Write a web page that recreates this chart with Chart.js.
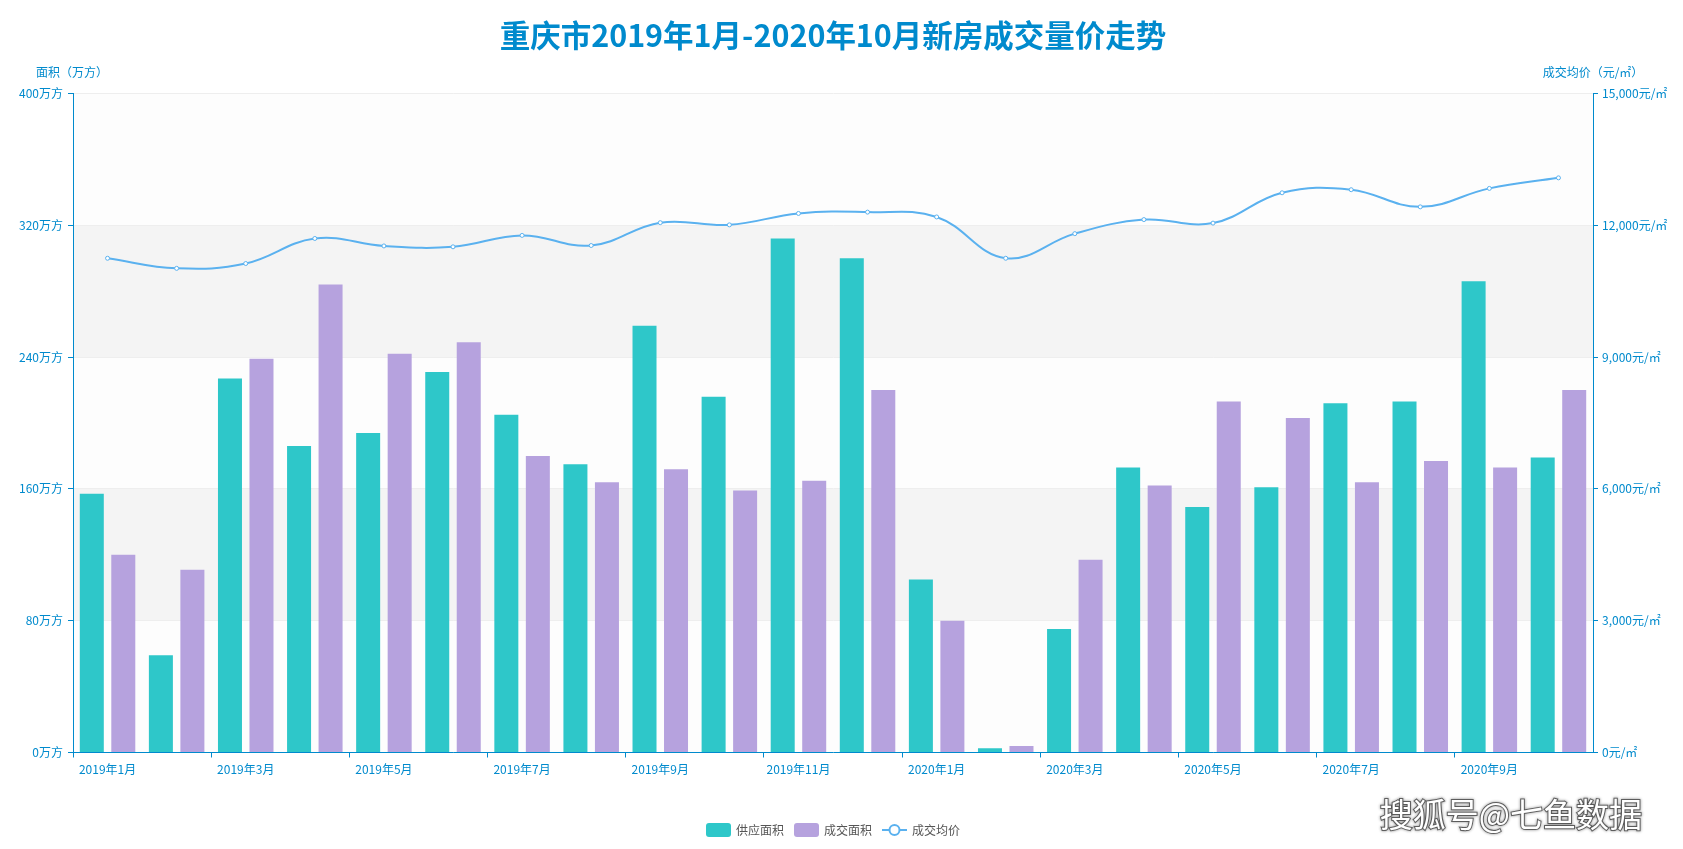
<!DOCTYPE html>
<html>
<head>
<meta charset="utf-8">
<script src="https://cdn.jsdelivr.net/npm/chart.js@4.4.1/dist/chart.umd.min.js"></script>
<style>
  html, body { margin: 0; background: #fff; }
  #wrap { width: 1683px; height: 849px; position: relative; }
</style>
</head>
<body>
<div id="wrap"><canvas id="chart" width="1683" height="849"></canvas></div>
<script>
const months = [
  "2019年1月", "2019年2月", "2019年3月", "2019年4月", "2019年5月", "2019年6月",
  "2019年7月", "2019年8月", "2019年9月", "2019年10月", "2019年11月", "2019年12月",
  "2020年1月", "2020年2月", "2020年3月", "2020年4月", "2020年5月", "2020年6月",
  "2020年7月", "2020年8月", "2020年9月", "2020年10月",
];
// 万方
const supplyArea = [157, 59, 227, 186, 194, 231, 205, 175, 259, 216, 312, 300,
  105, 2.6, 75, 173, 149, 161, 212, 213, 286, 179];
const dealArea = [120, 111, 239, 284, 242, 249, 180, 164, 172, 159, 165, 220,
  80, 3.9, 117, 162, 213, 203, 164, 177, 173, 220];
// 元/㎡
const avgPrice = [11250, 11020, 11130, 11700, 11530, 11510, 11770, 11540, 12060, 12010, 12270, 12300,
  12190, 11250, 11810, 12130, 12050, 12740, 12810, 12420, 12840, 13080];

const AREA_MAX = 400, AREA_STEP = 80;
const PRICE_MAX = 15000, PRICE_STEP = 3000;

const BLUE = "#008acd";
const FONT = "'Noto Sans CJK SC', 'Noto Sans', sans-serif";
const COLORS = { supply: "#2ec7c9", deal: "#b6a2de", price: "#5ab1ef" };

const bandsPlugin = {
  id: "bands",
  beforeDraw(chart) {
    const { ctx, chartArea: a } = chart;
    const y = chart.scales.y;
    ctx.save();
    for (let v = 0, i = 0; v < AREA_MAX; v += AREA_STEP, i++) {
      const top = y.getPixelForValue(v + AREA_STEP);
      const bottom = y.getPixelForValue(v);
      ctx.fillStyle = i % 2 === 0 ? "rgba(250,250,250,0.3)" : "rgba(200,200,200,0.2)";
      ctx.fillRect(a.left, top, a.right - a.left, bottom - top);
    }
    ctx.restore();
  },
};

const decorPlugin = {
  id: "decor",
  afterDraw(chart) {
    const { ctx, chartArea: a } = chart;
    const cx = (a.left + a.right) / 2;
    ctx.save();
    // title
    ctx.fillStyle = BLUE;
    ctx.font = "bold 30.5px " + FONT;
    ctx.textAlign = "center";
    ctx.textBaseline = "middle";
    ctx.fillText("重庆市2019年1月-2020年10月新房成交量价走势", cx, 35);

    // axis names
    ctx.font = "12px " + FONT;
    ctx.fillText("面积（万方）", 72, 72);
    ctx.fillText("成交均价（元/㎡）", 1593, 72);

    // legend
    const items = [
      { text: "供应面积", kind: "box", color: COLORS.supply },
      { text: "成交面积", kind: "box", color: COLORS.deal },
      { text: "成交均价", kind: "line", color: COLORS.price },
    ];
    ctx.font = "12px " + FONT;
    const boxW = 25, boxH = 14, gapText = 5, gapItem = 10;
    let total = 0;
    items.forEach((it, i) => {
      it.w = ctx.measureText(it.text).width;
      total += boxW + gapText + it.w + (i < items.length - 1 ? gapItem : 0);
    });
    let x = cx - total / 2;
    const ly = 830;
    ctx.textAlign = "left";
    items.forEach((it) => {
      if (it.kind === "box") {
        ctx.fillStyle = it.color;
        ctx.beginPath();
        ctx.roundRect(x, ly - boxH / 2, boxW, boxH, 3);
        ctx.fill();
      } else {
        ctx.strokeStyle = it.color;
        ctx.lineWidth = 2;
        ctx.beginPath();
        ctx.moveTo(x, ly);
        ctx.lineTo(x + boxW, ly);
        ctx.stroke();
        ctx.fillStyle = "#fff";
        ctx.beginPath();
        ctx.arc(x + boxW / 2, ly, 5, 0, Math.PI * 2);
        ctx.fill();
        ctx.stroke();
      }
      ctx.fillStyle = "#555";
      ctx.fillText(it.text, x + boxW + gapText, ly);
      x += boxW + gapText + it.w + gapItem;
    });

    // watermark
    ctx.font = "33px " + FONT;
    ctx.textAlign = "right";
    ctx.shadowColor = "rgba(0,0,0,0.6)";
    ctx.shadowBlur = 3;
    ctx.lineWidth = 2;
    ctx.strokeStyle = "rgba(70,70,70,0.8)";
    ctx.strokeText("搜狐号@七鱼数据", 1642, 814);
    ctx.shadowBlur = 0;
    ctx.fillStyle = "#fff";
    ctx.fillText("搜狐号@七鱼数据", 1642, 814);
    ctx.restore();
  },
};

const tickFont = { family: FONT, size: 12 };

new Chart(document.getElementById("chart"), {
  type: "bar",
  data: {
    labels: months,
    datasets: [
      {
        label: "供应面积",
        data: supplyArea,
        backgroundColor: COLORS.supply,
        yAxisID: "y",
        order: 1,
        categoryPercentage: 0.912,
        barPercentage: 0.762,
      },
      {
        label: "成交面积",
        data: dealArea,
        backgroundColor: COLORS.deal,
        yAxisID: "y",
        order: 1,
        categoryPercentage: 0.912,
        barPercentage: 0.762,
      },
      {
        type: "line",
        label: "成交均价",
        data: avgPrice,
        yAxisID: "y1",
        order: 0,
        borderColor: COLORS.price,
        borderWidth: 2,
        tension: 0.4,
        pointRadius: 2,
        pointBorderWidth: 1,
        pointBackgroundColor: "#fff",
        pointBorderColor: COLORS.price,
      },
    ],
  },
  options: {
    responsive: false,
    animation: false,
    layout: { padding: { top: 93.5, left: 0, right: 0, bottom: 66.5 } },
    plugins: {
      legend: { display: false },
      tooltip: { enabled: false },
      title: { display: false },
    },
    scales: {
      x: {
        offset: true,
        afterFit: (s) => { s.height = 30; },
        border: { color: BLUE, width: 1 },
        grid: {
          offset: true,
          drawOnChartArea: false,
          tickLength: 5,
          tickColor: (c) => (c.index % 2 === 0 ? BLUE : "rgba(0,0,0,0)"),
        },
        ticks: {
          autoSkip: false,
          maxRotation: 0,
          padding: 5,
          color: BLUE,
          font: tickFont,
          callback: (v, i) => (i % 2 === 0 ? months[i] : ""),
        },
      },
      y: {
        position: "left",
        min: 0,
        max: AREA_MAX,
        afterFit: (s) => { s.width = 73; },
        border: { color: BLUE, width: 1 },
        grid: { color: "#eee", tickColor: BLUE, tickLength: 5 },
        ticks: {
          stepSize: AREA_STEP,
          padding: 5,
          color: BLUE,
          font: tickFont,
          callback: (v) => v + "万方",
        },
      },
      y1: {
        position: "right",
        min: 0,
        max: PRICE_MAX,
        afterFit: (s) => { s.width = 90; },
        border: { color: BLUE, width: 1 },
        grid: { drawOnChartArea: false, tickColor: BLUE, tickLength: 5 },
        ticks: {
          stepSize: PRICE_STEP,
          padding: 4,
          color: BLUE,
          font: tickFont,
          callback: (v) => v.toLocaleString("en-US") + "元/㎡",
        },
      },
    },
  },
  plugins: [bandsPlugin, decorPlugin],
});
</script>
</body>
</html>
